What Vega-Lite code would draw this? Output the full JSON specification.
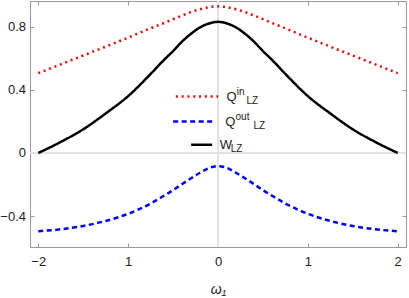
{
  "$schema": "https://vega.github.io/schema/vega-lite/v6.json",
  "width": 376,
  "height": 246,
  "autosize": {"type": "none"},
  "padding": {"left": 30, "top": 1, "right": 3, "bottom": 51},
  "config": {
    "view": {"stroke": "#999999", "strokeWidth": 1},
    "font": "Liberation Sans",
    "axis": {"grid": false, "domain": false, "tickColor": "#999999", "tickSize": -4, "tickWidth": 1, "labelFont": "Liberation Sans", "labelFontSize": 13, "labelColor": "#222222"}
  },
  "datasets": {
    "curves": [
      {"w1": -2.0, "value": 0.505, "series": "Qin"},
      {"w1": -1.75, "value": 0.561, "series": "Qin"},
      {"w1": -1.5, "value": 0.617, "series": "Qin"},
      {"w1": -1.25, "value": 0.673, "series": "Qin"},
      {"w1": -1.0, "value": 0.73, "series": "Qin"},
      {"w1": -0.75, "value": 0.789, "series": "Qin"},
      {"w1": -0.6, "value": 0.823, "series": "Qin"},
      {"w1": -0.5, "value": 0.847, "series": "Qin"},
      {"w1": -0.4, "value": 0.87, "series": "Qin"},
      {"w1": -0.3, "value": 0.892, "series": "Qin"},
      {"w1": -0.2, "value": 0.91, "series": "Qin"},
      {"w1": -0.1, "value": 0.923, "series": "Qin"},
      {"w1": 0.0, "value": 0.928, "series": "Qin"},
      {"w1": 0.1, "value": 0.923, "series": "Qin"},
      {"w1": 0.2, "value": 0.91, "series": "Qin"},
      {"w1": 0.3, "value": 0.892, "series": "Qin"},
      {"w1": 0.4, "value": 0.87, "series": "Qin"},
      {"w1": 0.5, "value": 0.847, "series": "Qin"},
      {"w1": 0.6, "value": 0.823, "series": "Qin"},
      {"w1": 0.75, "value": 0.789, "series": "Qin"},
      {"w1": 1.0, "value": 0.73, "series": "Qin"},
      {"w1": 1.25, "value": 0.673, "series": "Qin"},
      {"w1": 1.5, "value": 0.617, "series": "Qin"},
      {"w1": 1.75, "value": 0.561, "series": "Qin"},
      {"w1": 2.0, "value": 0.505, "series": "Qin"},
      {"w1": -2.0, "value": -0.495, "series": "Qout"},
      {"w1": -1.75, "value": -0.483, "series": "Qout"},
      {"w1": -1.5, "value": -0.462, "series": "Qout"},
      {"w1": -1.25, "value": -0.43, "series": "Qout"},
      {"w1": -1.0, "value": -0.385, "series": "Qout"},
      {"w1": -0.75, "value": -0.32, "series": "Qout"},
      {"w1": -0.6, "value": -0.27, "series": "Qout"},
      {"w1": -0.5, "value": -0.235, "series": "Qout"},
      {"w1": -0.4, "value": -0.197, "series": "Qout"},
      {"w1": -0.3, "value": -0.16, "series": "Qout"},
      {"w1": -0.2, "value": -0.125, "series": "Qout"},
      {"w1": -0.1, "value": -0.095, "series": "Qout"},
      {"w1": 0.0, "value": -0.083, "series": "Qout"},
      {"w1": 0.1, "value": -0.095, "series": "Qout"},
      {"w1": 0.2, "value": -0.125, "series": "Qout"},
      {"w1": 0.3, "value": -0.16, "series": "Qout"},
      {"w1": 0.4, "value": -0.197, "series": "Qout"},
      {"w1": 0.5, "value": -0.235, "series": "Qout"},
      {"w1": 0.6, "value": -0.27, "series": "Qout"},
      {"w1": 0.75, "value": -0.32, "series": "Qout"},
      {"w1": 1.0, "value": -0.385, "series": "Qout"},
      {"w1": 1.25, "value": -0.43, "series": "Qout"},
      {"w1": 1.5, "value": -0.462, "series": "Qout"},
      {"w1": 1.75, "value": -0.483, "series": "Qout"},
      {"w1": 2.0, "value": -0.495, "series": "Qout"},
      {"w1": -2.0, "value": 0.0, "series": "W"},
      {"w1": -1.75, "value": 0.07, "series": "W"},
      {"w1": -1.5, "value": 0.15, "series": "W"},
      {"w1": -1.25, "value": 0.25, "series": "W"},
      {"w1": -1.0, "value": 0.36, "series": "W"},
      {"w1": -0.75, "value": 0.5, "series": "W"},
      {"w1": -0.6, "value": 0.59, "series": "W"},
      {"w1": -0.5, "value": 0.645, "series": "W"},
      {"w1": -0.4, "value": 0.705, "series": "W"},
      {"w1": -0.3, "value": 0.755, "series": "W"},
      {"w1": -0.2, "value": 0.795, "series": "W"},
      {"w1": -0.1, "value": 0.82, "series": "W"},
      {"w1": 0.0, "value": 0.83, "series": "W"},
      {"w1": 0.1, "value": 0.82, "series": "W"},
      {"w1": 0.2, "value": 0.795, "series": "W"},
      {"w1": 0.3, "value": 0.755, "series": "W"},
      {"w1": 0.4, "value": 0.705, "series": "W"},
      {"w1": 0.5, "value": 0.645, "series": "W"},
      {"w1": 0.6, "value": 0.59, "series": "W"},
      {"w1": 0.75, "value": 0.5, "series": "W"},
      {"w1": 1.0, "value": 0.36, "series": "W"},
      {"w1": 1.25, "value": 0.25, "series": "W"},
      {"w1": 1.5, "value": 0.15, "series": "W"},
      {"w1": 1.75, "value": 0.07, "series": "W"},
      {"w1": 2.0, "value": 0.0, "series": "W"}
    ],
    "legend": [
      {"series": "Qin", "main": "Q", "sup": "in", "sub": "LZ"},
      {"series": "Qout", "main": "Q", "sup": "out", "sub": "LZ"},
      {"series": "W", "main": "W", "sup": "", "sub": "LZ"}
    ]
  },
  "resolve": {"axis": {"x": "independent", "y": "independent"}},
  "layer": [
    {
      "data": {"name": "curves"},
      "mark": {"type": "rule", "color": "#e3e3e3", "strokeWidth": 2},
      "encoding": {
        "y": {"datum": 0, "scale": {"domain": [-0.595, 0.962], "nice": false, "zero": false}, "axis": null}
      }
    },
    {
      "data": {"name": "curves"},
      "mark": {"type": "rule", "color": "#e3e3e3", "strokeWidth": 2},
      "encoding": {
        "x": {"datum": 0, "scale": {"domain": [-2.092, 2.092], "nice": false, "zero": false}, "axis": null}
      }
    },
    {
      "data": {"name": "curves"},
      "mark": {"type": "line", "interpolate": "monotone", "strokeWidth": 2.5, "strokeCap": "butt"},
      "encoding": {
        "x": {"field": "w1", "type": "quantitative", "scale": {"domain": [-2.092, 2.092], "nice": false, "zero": false},
          "axis": {"orient": "bottom", "values": [-2, -1, 0, 1, 2], "labelPadding": 12, "labelExpr": "datum.value < -1.5 ? '\u22122' : '' + abs(datum.value)",
            "title": "\u03c9\u2081", "titleFont": "Liberation Sans", "titleFontSize": 14, "titleFontStyle": "italic", "titleFontWeight": "normal", "titleColor": "#222222", "titleBaseline": "alphabetic", "titleY": 46}},
        "y": {"field": "value", "type": "quantitative", "scale": {"domain": [-0.595, 0.962], "nice": false, "zero": false},
          "axis": {"orient": "left", "values": [-0.4, 0, 0.4, 0.8], "labelPadding": 8.5, "labelExpr": "datum.value == 0 ? '0' : replace(format(datum.value, '.1f'), '-', '\u2212')", "title": null}},
        "color": {"field": "series", "type": "nominal", "scale": {"domain": ["Qin", "Qout", "W"], "range": ["#ff0000", "#0000ff", "#000000"]}, "legend": null},
        "strokeDash": {"field": "series", "type": "nominal", "scale": {"domain": ["Qin", "Qout", "W"], "range": [[2, 3.8], [5, 3.5], [1, 0]]}, "legend": null}
      }
    },
    {
      "data": {"name": "curves"},
      "mark": {"type": "point", "opacity": 0},
      "encoding": {
        "x": {"field": "w1", "type": "quantitative", "scale": {"domain": [-2.092, 2.092], "nice": false, "zero": false},
          "axis": {"orient": "top", "values": [-2, -1, 0, 1, 2], "labels": false, "title": null}},
        "y": {"field": "value", "type": "quantitative", "scale": {"domain": [-0.595, 0.962], "nice": false, "zero": false},
          "axis": {"orient": "right", "values": [-0.4, 0, 0.4, 0.8], "labels": false, "title": null}}
      }
    },
    {
      "data": {"name": "legend"},
      "transform": [{"filter": "datum.series == 'Qin'"}],
      "mark": {"type": "rule", "color": "#ff0000", "strokeWidth": 2.5, "strokeDash": [2, 3.8]},
      "encoding": {
        "x": {"datum": -0.469, "axis": null}, "x2": {"datum": 0.002},
        "y": {"datum": 0.3575, "axis": null}
      }
    },
    {
      "data": {"name": "legend"},
      "transform": [{"filter": "datum.series == 'Qout'"}],
      "mark": {"type": "rule", "color": "#0000ff", "strokeWidth": 2.5, "strokeDash": [5, 3.5]},
      "encoding": {
        "x": {"datum": -0.499, "axis": null}, "x2": {"datum": -0.042},
        "y": {"datum": 0.2, "axis": null}
      }
    },
    {
      "data": {"name": "legend"},
      "transform": [{"filter": "datum.series == 'W'"}],
      "mark": {"type": "rule", "color": "#000000", "strokeWidth": 2.5},
      "encoding": {
        "x": {"datum": -0.299, "axis": null}, "x2": {"datum": -0.065},
        "y": {"datum": 0.052, "axis": null}
      }
    },
    {
      "data": {"name": "legend"},
      "transform": [{"filter": "datum.series == 'Qin'"}],
      "mark": {"type": "text", "align": "left", "baseline": "alphabetic", "fontSize": 13, "dy": 4.5, "color": "#222222"},
      "encoding": {"x": {"datum": 0.095, "axis": null}, "y": {"datum": 0.3575, "axis": null}, "text": {"field": "main"}}
    },
    {
      "data": {"name": "legend"},
      "transform": [{"filter": "datum.series == 'Qin'"}],
      "mark": {"type": "text", "align": "left", "baseline": "alphabetic", "fontSize": 10, "dy": -1.7, "color": "#222222"},
      "encoding": {"x": {"datum": 0.208, "axis": null}, "y": {"datum": 0.3575, "axis": null}, "text": {"field": "sup"}}
    },
    {
      "data": {"name": "legend"},
      "transform": [{"filter": "datum.series == 'Qin'"}],
      "mark": {"type": "text", "align": "left", "baseline": "alphabetic", "fontSize": 10, "dy": 7.5, "color": "#222222"},
      "encoding": {"x": {"datum": 0.316, "axis": null}, "y": {"datum": 0.3575, "axis": null}, "text": {"field": "sub"}}
    },
    {
      "data": {"name": "legend"},
      "transform": [{"filter": "datum.series == 'Qout'"}],
      "mark": {"type": "text", "align": "left", "baseline": "alphabetic", "fontSize": 13, "dy": 4.5, "color": "#222222"},
      "encoding": {"x": {"datum": 0.08, "axis": null}, "y": {"datum": 0.2, "axis": null}, "text": {"field": "main"}}
    },
    {
      "data": {"name": "legend"},
      "transform": [{"filter": "datum.series == 'Qout'"}],
      "mark": {"type": "text", "align": "left", "baseline": "alphabetic", "fontSize": 10, "dy": -1.7, "color": "#222222"},
      "encoding": {"x": {"datum": 0.195, "axis": null}, "y": {"datum": 0.2, "axis": null}, "text": {"field": "sup"}}
    },
    {
      "data": {"name": "legend"},
      "transform": [{"filter": "datum.series == 'Qout'"}],
      "mark": {"type": "text", "align": "left", "baseline": "alphabetic", "fontSize": 10, "dy": 7.5, "color": "#222222"},
      "encoding": {"x": {"datum": 0.395, "axis": null}, "y": {"datum": 0.2, "axis": null}, "text": {"field": "sub"}}
    },
    {
      "data": {"name": "legend"},
      "transform": [{"filter": "datum.series == 'W'"}],
      "mark": {"type": "text", "align": "left", "baseline": "alphabetic", "fontSize": 13, "dy": 4.5, "color": "#222222"},
      "encoding": {"x": {"datum": 0.02, "axis": null}, "y": {"datum": 0.052, "axis": null}, "text": {"field": "main"}}
    },
    {
      "data": {"name": "legend"},
      "transform": [{"filter": "datum.series == 'W'"}],
      "mark": {"type": "text", "align": "left", "baseline": "alphabetic", "fontSize": 10, "dy": 7.5, "color": "#222222"},
      "encoding": {"x": {"datum": 0.142, "axis": null}, "y": {"datum": 0.052, "axis": null}, "text": {"field": "sub"}}
    }
  ]
}
